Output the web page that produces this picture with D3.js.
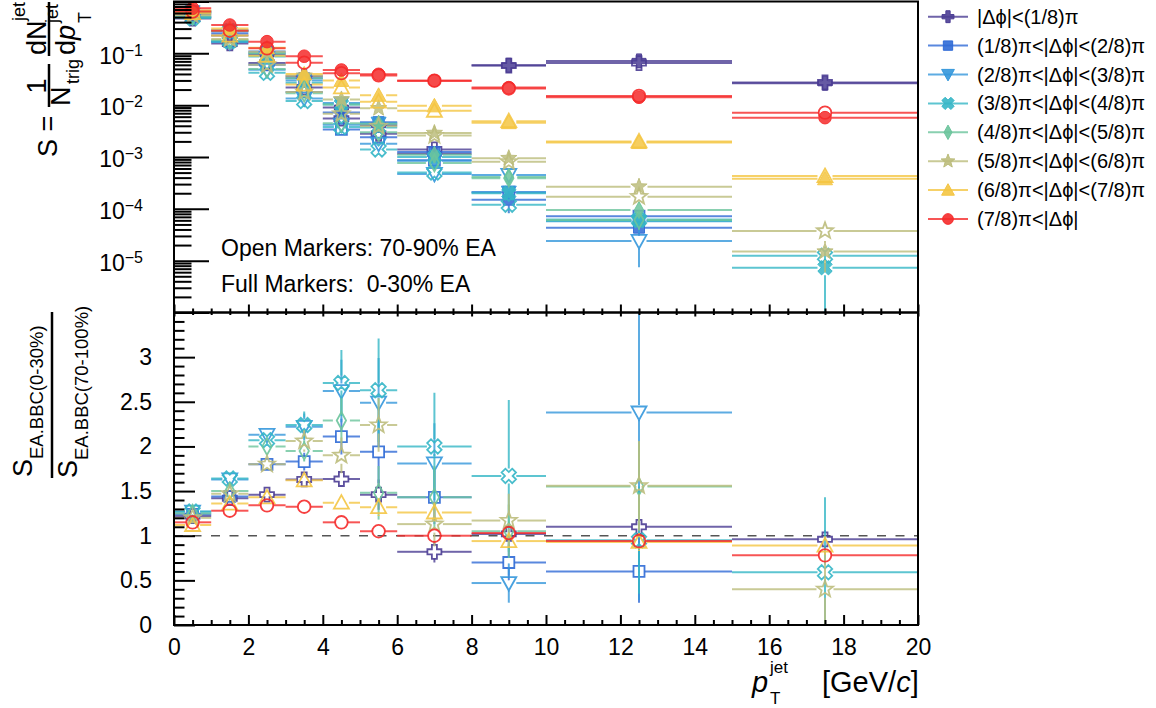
<!DOCTYPE html>
<html>
<head>
<meta charset="utf-8">
<script src="https://cdn.jsdelivr.net/npm/d3@7"></script>
<style>
  body { margin: 0; background: #fff; }
  svg { display: block; }
  text { font-family: "Liberation Sans", Arial, Helvetica, sans-serif; fill: #000; }
</style>
</head>
<body>
<svg id="chart" width="1156" height="708"></svg>
<script>
// ---- data ---------------------------------------------------------------
const binEdges = [0, 1, 2, 3, 4, 5, 6, 8, 10, 15, 20];

const seriesLabels = [
  "|\u0394\u03d5|<(1/8)\u03c0",
  "(1/8)\u03c0<|\u0394\u03d5|<(2/8)\u03c0",
  "(2/8)\u03c0<|\u0394\u03d5|<(3/8)\u03c0",
  "(3/8)\u03c0<|\u0394\u03d5|<(4/8)\u03c0",
  "(4/8)\u03c0<|\u0394\u03d5|<(5/8)\u03c0",
  "(5/8)\u03c0<|\u0394\u03d5|<(6/8)\u03c0",
  "(6/8)\u03c0<|\u0394\u03d5|<(7/8)\u03c0",
  "(7/8)\u03c0<|\u0394\u03d5|"
];
const seriesColors = ["#4b3d94", "#2f6ad6", "#3497db", "#35b6c6", "#6cc49c", "#bcbd7c", "#f4c542", "#f52a2a"];
const seriesShapes = ["cross", "square", "triangleDown", "crossX", "diamond", "star", "triangleUp", "circle"];

// spectrum S for 70-90% EA (open markers), one row per |dphi| slice
const openSpectrum = [
  [0.47, 0.155, 0.065, 0.022, 0.0055, 0.0028, 0.0014, 0.058, 0.065, 0.0275],
  [0.50, 0.17, 0.060, 0.018, 0.0034, 0.0024, 0.00087, 0.00021, 0.000072, NaN],
  [0.50, 0.165, 0.048, 0.0135, 0.0042, 0.0018, 0.00047, 0.00045, 0.000024, NaN],
  [0.48, 0.17, 0.042, 0.012, 0.0038, 0.0014, 0.00050, 0.00012, 0.000062, 0.0000124],
  [0.52, 0.18, 0.050, 0.017, 0.0045, 0.0030, 0.00077, 0.00039, 0.000061, NaN],
  [0.55, 0.19, 0.060, 0.018, 0.0068, 0.0039, 0.0026, 0.00081, 0.000172, 0.0000375],
  [0.60, 0.22, 0.090, 0.025, 0.022, 0.0117, 0.0078, 0.0049, 0.0020, 0.00043],
  [0.64, 0.273, 0.125, 0.066, 0.0415, 0.0375, 0.0297, 0.021, 0.0151, 0.00717]
];
// spectrum S for 0-30% EA (full markers)
const fullSpectrum = [
  [0.57, 0.22, 0.095, 0.036, 0.0090, 0.0041, 0.00115, 0.059, 0.0715, 0.0264],
  [0.62, 0.245, 0.108, 0.033, 0.0072, 0.0047, 0.00125, 0.00015, 0.0000433, NaN],
  [0.635, 0.27, 0.100, 0.030, 0.011, 0.0045, 0.00085, 0.00021, 0.0000575, NaN],
  [0.61, 0.28, 0.087, 0.027, 0.0103, 0.0037, 0.0010, 0.00020, 0.000059, 0.0000073],
  [0.65, 0.27, 0.100, 0.033, 0.0103, 0.0044, 0.0011, 0.00041, 0.0000945, NaN],
  [0.66, 0.28, 0.107, 0.037, 0.0129, 0.0087, 0.0029, 0.00095, 0.000268, 0.000015],
  [0.67, 0.30, 0.128, 0.040, 0.030, 0.0155, 0.0097, 0.0046, 0.0019, 0.00038],
  [0.74, 0.352, 0.168, 0.088, 0.0477, 0.0394, 0.0297, 0.0218, 0.0142, 0.00574]
];
// relative statistical uncertainties of the spectra
const openRelErr = [
  [0.01, 0.02, 0.03, 0.05, 0.08, 0.10, 0.10, 0.03, 0.03, 0.05],
  [0.01, 0.02, 0.03, 0.05, 0.10, 0.12, 0.15, 0.20, 0.30, NaN],
  [0.01, 0.02, 0.03, 0.06, 0.10, 0.14, 0.20, 0.20, 0.69, NaN],
  [0.01, 0.02, 0.04, 0.06, 0.10, 0.15, 0.20, 0.30, 0.35, 0.50],
  [0.01, 0.02, 0.03, 0.05, 0.10, 0.12, 0.15, 0.20, 0.35, NaN],
  [0.01, 0.02, 0.03, 0.05, 0.08, 0.10, 0.10, 0.15, 0.25, 0.30],
  [0.01, 0.02, 0.02, 0.04, 0.05, 0.05, 0.05, 0.05, 0.08, 0.15],
  [0.01, 0.01, 0.02, 0.02, 0.03, 0.03, 0.03, 0.03, 0.04, 0.06]
];
const fullRelErr = [
  [0.01, 0.01, 0.02, 0.03, 0.05, 0.06, 0.08, 0.03, 0.03, 0.05],
  [0.01, 0.01, 0.02, 0.04, 0.06, 0.08, 0.10, 0.45, 0.30, NaN],
  [0.01, 0.01, 0.02, 0.04, 0.06, 0.08, 0.12, 0.20, 0.30, NaN],
  [0.01, 0.01, 0.02, 0.04, 0.06, 0.08, 0.12, 0.25, 0.30, 0.95],
  [0.01, 0.01, 0.02, 0.04, 0.06, 0.08, 0.10, 0.15, 0.30, NaN],
  [0.01, 0.01, 0.02, 0.03, 0.05, 0.06, 0.08, 0.12, 0.20, 0.60],
  [0.01, 0.01, 0.02, 0.02, 0.03, 0.04, 0.04, 0.05, 0.06, 0.12],
  [0.01, 0.01, 0.01, 0.02, 0.02, 0.02, 0.03, 0.03, 0.03, 0.06]
];

// ratio S(0-30%) / S(70-100%)
const ratioValues = [
  [1.22, 1.42, 1.46, 1.63, 1.635, 1.46, 0.82, 1.02, 1.10, 0.96],
  [1.24, 1.44, 1.80, 1.83, 2.11, 1.94, 1.43, 0.70, 0.60, NaN],
  [1.27, 1.63, 2.13, 2.22, 2.62, 2.49, 1.81, 0.47, 2.38, NaN],
  [1.27, 1.64, 2.07, 2.24, 2.71, 2.63, 2.00, 1.67, 0.95, 0.59],
  [1.25, 1.50, 2.00, 1.95, 2.29, 1.48, 1.43, 1.05, 1.55, NaN],
  [1.20, 1.47, 1.80, 2.06, 1.90, 2.24, 1.13, 1.17, 1.56, 0.40],
  [1.12, 1.36, 1.43, 1.62, 1.37, 1.32, 1.26, 0.94, 0.93, 0.89],
  [1.15, 1.28, 1.34, 1.325, 1.15, 1.05, 1.00, 1.03, 0.94, 0.78]
];
const ratioErrors = [
  [0.02, 0.03, 0.04, 0.07, 0.08, 0.17, 0.12, 0.06, 0.15, 0.10],
  [0.02, 0.04, 0.05, 0.10, 0.20, 0.35, 0.30, 0.20, 0.35, NaN],
  [0.03, 0.05, 0.07, 0.15, 0.35, 0.50, 0.45, 0.22, 2.10, NaN],
  [0.03, 0.05, 0.07, 0.15, 0.37, 0.58, 0.60, 0.85, 0.60, 0.84],
  [0.02, 0.05, 0.06, 0.12, 0.25, 0.30, 0.35, 0.30, 0.50, NaN],
  [0.02, 0.04, 0.06, 0.12, 0.20, 0.30, 0.25, 0.30, 0.50, 0.45],
  [0.02, 0.03, 0.04, 0.06, 0.07, 0.10, 0.10, 0.08, 0.10, 0.10],
  [0.01, 0.02, 0.02, 0.03, 0.03, 0.04, 0.04, 0.03, 0.05, 0.06]
];

const xTickValues = [0, 2, 4, 6, 8, 10, 12, 14, 16, 18, 20];
const logTickExponents = [-1, -2, -3, -4, -5];
const ratioTickValues = [0, 0.5, 1, 1.5, 2, 2.5, 3];
const textOpen = "Open Markers: 70-90% EA";
const textFull = "Full Markers:  0-30% EA";

// ---- layout -------------------------------------------------------------
const X0 = 174, X1 = 918, YT = 1.5, YM = 312.5, YB = 625;
const TICK_FONT = 23;

const svg = d3.select("#chart");
const x = d3.scaleLinear().domain([0, 20]).range([X0, X1]);
const yS = d3.scaleLog().domain([1e-6, 1]).range([YM, YT]);
const yR = d3.scaleLinear().domain([0, 3.5]).range([YB, YM]);

const defs = svg.append("defs");
defs.append("clipPath").attr("id", "clipTop").append("rect")
  .attr("x", X0).attr("y", YT).attr("width", X1 - X0).attr("height", YM - YT);
defs.append("clipPath").attr("id", "clipBot").append("rect")
  .attr("x", X0).attr("y", YM).attr("width", X1 - X0).attr("height", YB - YM);

// ---- marker shapes (ROOT-like) -----------------------------------------
const markerSize = { cross: 7, square: 5.5, triangleDown: 7.5, crossX: 7.5, diamond: 8.5, star: 8.5, triangleUp: 7.5, circle: 6.3 };
function markerPath(shape, r) {
  const poly = pts => "M" + pts.map(p => p[0].toFixed(2) + "," + p[1].toFixed(2)).join("L") + "Z";
  const a = r * 0.36;
  const plus = [[-a,-r],[a,-r],[a,-a],[r,-a],[r,a],[a,a],[a,r],[-a,r],[-a,a],[-r,a],[-r,-a],[-a,-a]];
  switch (shape) {
    case "circle": return `M${r},0A${r},${r} 0 1,1 ${-r},0A${r},${r} 0 1,1 ${r},0Z`;
    case "square": return poly([[-r,-r],[r,-r],[r,r],[-r,r]]);
    case "triangleUp": return poly([[0,-r],[r,r*0.8],[-r,r*0.8]]);
    case "triangleDown": return poly([[0,r],[r,-r*0.8],[-r,-r*0.8]]);
    case "diamond": return poly([[0,-r],[r*0.55,0],[0,r],[-r*0.55,0]]);
    case "cross": return poly(plus);
    case "crossX": {
      const c = Math.SQRT1_2;
      return poly(plus.map(([px, py]) => [(px - py) * c, (px + py) * c]));
    }
    case "star": {
      const pts = [];
      for (let i = 0; i < 10; i++) {
        const ang = -Math.PI / 2 + i * Math.PI / 5;
        const rr = i % 2 === 0 ? r : r * 0.42;
        pts.push([rr * Math.cos(ang), rr * Math.sin(ang)]);
      }
      return poly(pts);
    }
  }
}

// one data point: horizontal bin bar + vertical error bar, gap at the marker, marker
function drawPoint(g, xa, xb, xc, yc, yHi, yLo, color, shape, open) {
  const r = markerSize[shape];
  const gap = r;
  const seg = (x1, y1, x2, y2) => g.append("line")
    .attr("x1", x1).attr("y1", y1).attr("x2", x2).attr("y2", y2)
    .attr("stroke", color).attr("stroke-width", 2).attr("stroke-opacity", 0.8);
  if (xc - gap > xa) seg(xa, yc, xc - gap, yc);
  if (xb > xc + gap) seg(xc + gap, yc, xb, yc);
  if (yc - yHi > gap) seg(xc, yHi, xc, yc - gap);
  if (yLo - yc > gap) seg(xc, yc + gap, xc, yLo);
  g.append("path").attr("d", markerPath(shape, r))
    .attr("transform", `translate(${xc},${yc})`)
    .attr("fill", open ? "none" : color)
    .attr("fill-opacity", open ? 0 : 0.85)
    .attr("stroke", color).attr("stroke-width", open ? 1.8 : 1)
    .attr("stroke-opacity", 0.9);
}

// ---- top panel: spectra ------------------------------------------------
const gTop = svg.append("g").attr("clip-path", "url(#clipTop)");
for (let s = 0; s < seriesLabels.length; s++) {
  [[openSpectrum, openRelErr, true], [fullSpectrum, fullRelErr, false]].forEach(([vals, errs, open]) => {
    vals[s].forEach((v, b) => {
      if (!(v > 0)) return;
      const xa = x(binEdges[b]), xb = x(binEdges[b + 1]);
      const xc = x((binEdges[b] + binEdges[b + 1]) / 2);
      const e = v * errs[s][b];
      const lo = v - e > 1e-8 ? yS(v - e) : YM + 20;
      drawPoint(gTop, xa, xb, xc, yS(v), yS(v + e), lo, seriesColors[s], seriesShapes[s], open);
    });
  });
}

// ---- bottom panel: ratios ----------------------------------------------
const gBot = svg.append("g").attr("clip-path", "url(#clipBot)");
gBot.append("line")
  .attr("x1", X0).attr("x2", X1).attr("y1", yR(1)).attr("y2", yR(1))
  .attr("stroke", "#555").attr("stroke-width", 1.6).attr("stroke-dasharray", "9,9.5");
for (let s = 0; s < seriesLabels.length; s++) {
  ratioValues[s].forEach((v, b) => {
    if (!(v > 0)) return;
    const xa = x(binEdges[b]), xb = x(binEdges[b + 1]);
    const xc = x((binEdges[b] + binEdges[b + 1]) / 2);
    const e = ratioErrors[s][b];
    drawPoint(gBot, xa, xb, xc, yR(v), yR(v + e), yR(v - e), seriesColors[s], seriesShapes[s], true);
  });
}

// ---- axes ---------------------------------------------------------------
const minorX = d3.range(0, 20.01, 0.5).filter(v => v % 2 !== 0);
function styleAxis(g) {
  g.select(".domain").remove();
  g.selectAll(".tick line").attr("stroke", "#000").attr("stroke-width", 2);
  g.selectAll(".tick text").attr("font-size", TICK_FONT).attr("fill", "#000")
    .attr("font-family", "\"Liberation Sans\", Arial, sans-serif");
}

// x axis of the ratio panel (labelled)
svg.append("g").attr("transform", `translate(0,${YB})`)
  .call(d3.axisBottom(x).tickValues(xTickValues).tickSize(-10).tickPadding(14).tickFormat(d3.format("d")))
  .call(styleAxis);
svg.append("g").attr("transform", `translate(0,${YB})`)
  .call(d3.axisBottom(x).tickValues(minorX).tickSize(-5).tickFormat(""))
  .call(styleAxis);
// ticks along the shared edge
svg.append("g").attr("transform", `translate(0,${YM})`)
  .call(d3.axisBottom(x).tickValues(xTickValues).tickSize(-8).tickFormat(""))
  .call(styleAxis);
svg.append("g").attr("transform", `translate(0,${YM})`)
  .call(d3.axisBottom(x).tickValues(minorX).tickSize(-4).tickFormat(""))
  .call(styleAxis);
svg.append("g").attr("transform", `translate(0,${YM})`)
  .call(d3.axisTop(x).tickValues(xTickValues).tickSize(-4).tickFormat(""))
  .call(styleAxis);
svg.append("g").attr("transform", `translate(0,${YM})`)
  .call(d3.axisTop(x).tickValues(minorX).tickSize(-2.5).tickFormat(""))
  .call(styleAxis);

// log y axis of the spectrum panel
const decades = d3.range(-6, 1).map(k => Math.pow(10, k));
const minorLog = [];
for (let k = -6; k < 0; k++) for (let m = 2; m <= 9; m++) minorLog.push(m * Math.pow(10, k));
svg.append("g").attr("transform", `translate(${X0},0)`)
  .call(d3.axisLeft(yS).tickValues(decades).tickSize(-35).tickFormat(""))
  .call(styleAxis);
svg.append("g").attr("transform", `translate(${X0},0)`)
  .call(d3.axisLeft(yS).tickValues(minorLog).tickSize(-17.5).tickFormat(""))
  .call(styleAxis);
const logLabels = svg.append("g").attr("transform", `translate(${X0},0)`)
  .call(d3.axisLeft(yS).tickValues(logTickExponents.map(k => Math.pow(10, k))).tickSize(0).tickPadding(31)
    .tickFormat(() => ""))
  .call(styleAxis);
logLabels.selectAll(".tick text").each(function (d) {
  const t = d3.select(this).attr("dy", "0.42em");
  t.append("tspan").text("10");
  t.append("tspan").attr("dy", "-0.5em").attr("font-size", 16).text("\u2212" + Math.round(-Math.log10(d)));
});

// linear y axis of the ratio panel
const minorR = d3.range(0, 3.501, 0.1).map(v => +v.toFixed(1)).filter(v => Math.abs(v * 2 - Math.round(v * 2)) > 1e-6);
svg.append("g").attr("transform", `translate(${X0},0)`)
  .call(d3.axisLeft(yR).tickValues(d3.range(0, 3.51, 0.5)).tickSize(-21).tickFormat(""))
  .call(styleAxis);
svg.append("g").attr("transform", `translate(${X0},0)`)
  .call(d3.axisLeft(yR).tickValues(minorR).tickSize(-10.5).tickFormat(""))
  .call(styleAxis);
svg.append("g").attr("transform", `translate(${X0},0)`)
  .call(d3.axisLeft(yR).tickValues(ratioTickValues).tickSize(0).tickPadding(22).tickFormat(d => String(d)))
  .call(styleAxis);

// frames
[[YT, YM], [YM, YB]].forEach(([a, b]) => {
  svg.append("rect").attr("x", X0).attr("y", a).attr("width", X1 - X0).attr("height", b - a)
    .attr("fill", "none").attr("stroke", "#000").attr("stroke-width", 2);
});

// ---- annotations --------------------------------------------------------
svg.append("text").attr("x", 221).attr("y", 256).attr("font-size", 23).text(textOpen);
svg.append("text").attr("x", 221).attr("y", 292).attr("font-size", 23).style("white-space", "pre").text(textFull);

// ---- legend -------------------------------------------------------------
const legend = svg.append("g");
seriesLabels.forEach((lab, i) => {
  const yy = 16.7 + i * 28.9;
  legend.append("line").attr("x1", 928).attr("x2", 968).attr("y1", yy).attr("y2", yy)
    .attr("stroke", seriesColors[i]).attr("stroke-width", 2).attr("stroke-opacity", 0.8);
  legend.append("path").attr("d", markerPath(seriesShapes[i], markerSize[seriesShapes[i]] * 0.85))
    .attr("transform", `translate(948,${yy})`).attr("fill", seriesColors[i]).attr("fill-opacity", 0.9)
    .attr("stroke", seriesColors[i]);
  legend.append("text").attr("x", 977).attr("y", yy + 7).attr("font-size", 20).text(lab);
});

// ---- axis titles --------------------------------------------------------
// x title: p_T^jet [GeV/c], one text element with raised / lowered parts
const xt = svg.append("text").attr("font-size", 29).attr("x", 752).attr("y", 692);
xt.append("tspan").attr("font-style", "italic").text("p");
xt.append("tspan").attr("x", 770).attr("dy", -19).attr("font-size", 17).text("jet");
xt.append("tspan").attr("x", 770).attr("dy", 31).attr("font-size", 17).text("T");
xt.append("tspan").attr("x", 822).attr("dy", -12).text("[GeV/");
xt.append("tspan").attr("font-style", "italic").text("c");
xt.append("tspan").text("]");

// y title of the spectrum panel: S = 1/N_trig dN^jet/dp_T^jet
const ty = svg.append("g").attr("transform", "translate(49,160) rotate(-90)");
ty.append("text").attr("x", 3).attr("y", 8).attr("font-size", 27).style("white-space", "pre").text("S =");
ty.append("line").attr("x1", 53).attr("x2", 96).attr("y1", 0).attr("y2", 0).attr("stroke", "#000").attr("stroke-width", 2.5);
ty.append("text").attr("x", 74).attr("y", -3).attr("text-anchor", "middle").attr("font-size", 27).text("1");
ty.append("text").attr("x", 54).attr("y", 21).attr("font-size", 27).text("N");
ty.append("text").attr("x", 76).attr("y", 30).attr("font-size", 18).text("trig");
ty.append("line").attr("x1", 104).attr("x2", 158).attr("y1", 0).attr("y2", 0).attr("stroke", "#000").attr("stroke-width", 2.5);
ty.append("text").attr("x", 105).attr("y", -3).attr("font-size", 27).text("dN");
ty.append("text").attr("x", 139).attr("y", -24).attr("font-size", 18).text("jet");
const dp = ty.append("text").attr("x", 105).attr("y", 26).attr("font-size", 27);
dp.append("tspan").text("d");
dp.append("tspan").attr("font-style", "italic").text("p");
ty.append("text").attr("x", 137).attr("y", 9).attr("font-size", 18).text("jet");
ty.append("text").attr("x", 137).attr("y", 42).attr("font-size", 18).text("T");

// y title of the ratio panel: S_EA.BBC(0-30%) / S_EA.BBC(70-100%)
const tr = svg.append("g").attr("transform", "translate(52,478) rotate(-90)");
tr.append("line").attr("x1", 0).attr("x2", 166).attr("y1", 0).attr("y2", 0).attr("stroke", "#000").attr("stroke-width", 2.5);
const num = tr.append("text").attr("x", 1).attr("y", -20).attr("font-size", 27);
num.append("tspan").text("S");
num.append("tspan").attr("dy", 11).attr("font-size", 18.5).text("EA.BBC(0-30%)");
const den = tr.append("text").attr("x", 0).attr("y", 25).attr("font-size", 27);
den.append("tspan").text("S");
den.append("tspan").attr("dy", 11).attr("font-size", 18.5).text("EA.BBC(70-100%)");
</script>
</body>
</html>
